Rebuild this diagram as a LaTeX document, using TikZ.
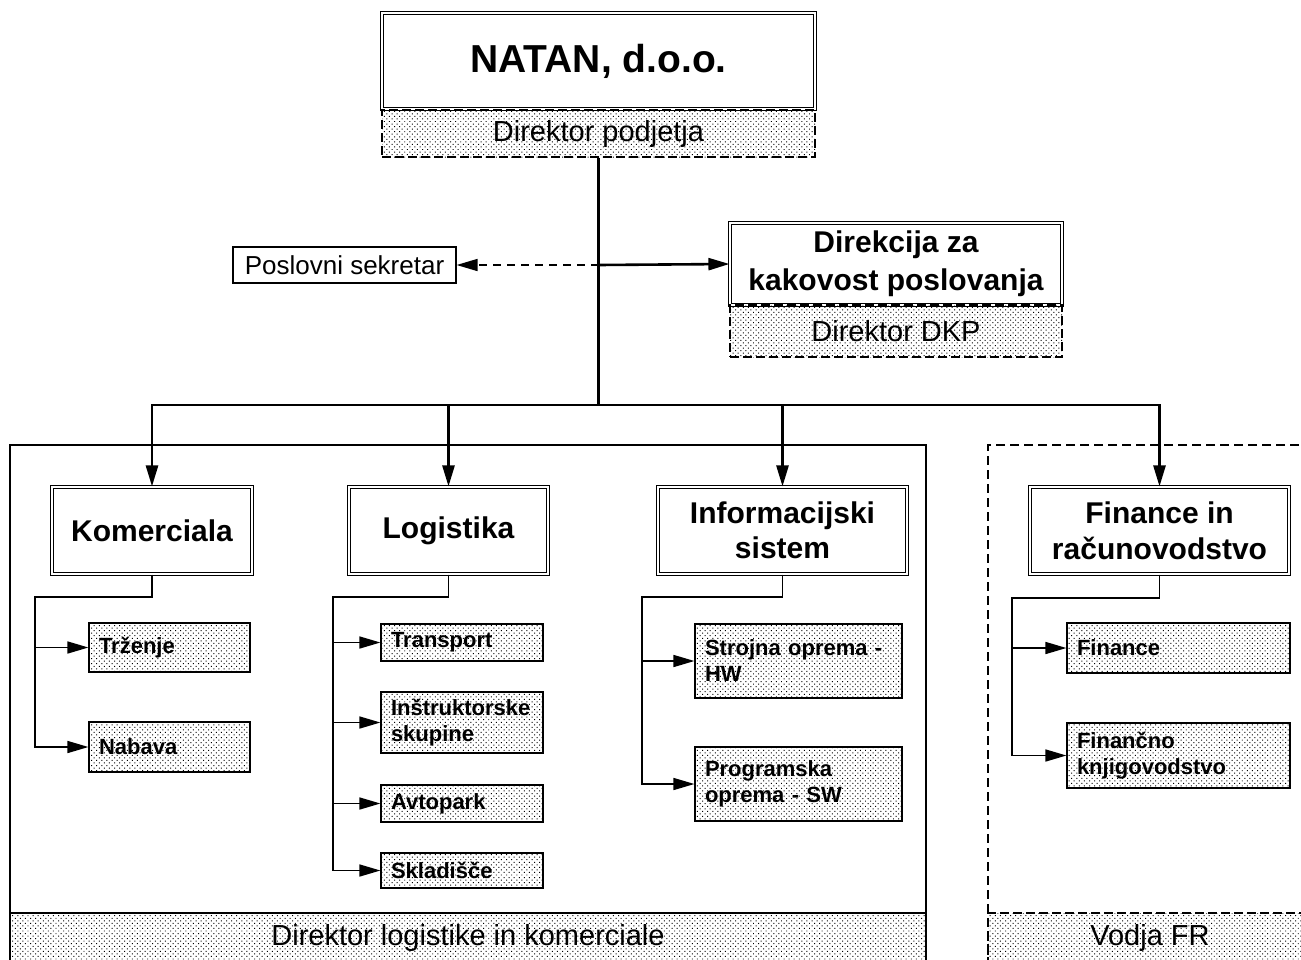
\documentclass[tikz,border=0pt]{standalone}
\usepackage{fontspec}
\setmainfont{Liberation Sans}
\usetikzlibrary{arrows.meta,patterns.meta}
\begin{document}
\begin{tikzpicture}[x=1pt,y=-1pt,
  Arr/.tip={Triangle[length=21pt,width=12pt]},
  mainline/.style={line width=2.6pt},
  subline/.style={line width=1.6pt},
  dotfill/.style={pattern={Dots[distance=3.6pt,radius=0.7pt,angle=45]}},
  dbl/.style={draw,double,double distance=2pt,line width=1.1pt,fill=white,align=center,
    font=\bfseries\fontsize{30}{35}\selectfont,inner sep=0pt},
  strip/.style={draw,dotfill,dash pattern=on 9pt off 4pt,line width=1.2pt,
    font=\fontsize{29}{34}\selectfont,inner sep=0pt},
  unitbox/.style={draw,dotfill,line width=1.2pt,align=left,
    font=\bfseries\fontsize{22}{26}\selectfont,inner xsep=10pt,inner ysep=0pt},
  group/.style={draw,line width=1.2pt,inner sep=0pt},
]
\useasboundingbox (0,0) rectangle (1301,959);
\clip (0,0) rectangle (1301,959);

% group containers
\node[group,minimum width=916pt,minimum height=517pt] (lgroup) at (468,703.5) {};
\node[strip,solid,minimum width=916pt,minimum height=49pt] (dlk) at (468,937.5) {Direktor logistike in komerciale};
\node[group,dash pattern=on 9pt off 5pt,minimum width=324pt,minimum height=517pt] (rgroup) at (1150,703.5) {};
\node[strip,minimum width=324pt,minimum height=49pt] (vfr) at (1150,937.5) {Vodja FR};

% top
\node[dbl,minimum width=433pt,minimum height=96pt,font=\bfseries\fontsize{39}{44}\selectfont] (natan) at (598.5,61) {NATAN, d.o.o.};
\node[strip,minimum width=433pt,minimum height=47pt] (dirpod) at (598.5,133.5) {Direktor podjetja};

\node[draw,line width=1.2pt,minimum width=223pt,minimum height=36pt,inner sep=0pt,
  font=\fontsize{26}{30}\selectfont] (sek) at (344.5,265) {Poslovni sekretar};

\node[dbl,minimum width=332pt,minimum height=82pt,font=\bfseries\fontsize{30}{38}\selectfont] (dkp) at (896,264) {Direkcija za\\kakovost poslovanja};
\node[strip,minimum width=332pt,minimum height=52pt] (dkpdir) at (896,331) {Direktor DKP};

% departments
\node[dbl,minimum width=200pt,minimum height=87pt] (komer) at (152,530.5) {Komerciala};
\node[dbl,minimum width=199pt,minimum height=87pt] (logi) at (448.5,530.5) {Logistika};
\node[dbl,minimum width=249pt,minimum height=87pt] (info) at (782.5,530.5) {Informacijski\\sistem};
\node[dbl,minimum width=259pt,minimum height=87pt,font=\bfseries\fontsize{30}{36}\selectfont] (fin) at (1159.5,530.5) {Finance in\\računovodstvo};

% units
\node[unitbox,minimum width=161pt,text width=141pt,minimum height=49pt] (trz) at (169.5,647.5) {Trženje};
\node[unitbox,minimum width=161pt,text width=141pt,minimum height=50pt] (nab) at (169.5,747) {Nabava};
\node[unitbox,minimum width=162pt,text width=142pt,minimum height=37pt] (trans) at (462,642.5) {Transport};
\node[unitbox,minimum width=162pt,text width=142pt,minimum height=61pt] (instr) at (462,722.5) {Inštruktorske\\skupine};
\node[unitbox,minimum width=162pt,text width=142pt,minimum height=37pt] (avto) at (462,803.5) {Avtopark};
\node[unitbox,minimum width=162pt,text width=142pt,minimum height=35pt] (sklad) at (462,870.5) {Skladišče};
\node[unitbox,minimum width=207pt,text width=187pt,minimum height=74pt] (hw) at (798.5,661) {Strojna oprema -\\HW};
\node[unitbox,minimum width=207pt,text width=187pt,minimum height=74pt] (sw) at (798.5,784) {Programska\\oprema - SW};
\node[unitbox,minimum width=223pt,text width=203pt,minimum height=50pt] (finn) at (1178.5,648) {Finance};
\node[unitbox,minimum width=223pt,text width=203pt,minimum height=65pt] (fk) at (1178.5,755.5) {Finančno\\knjigovodstvo};

% main connectors
\coordinate (mid) at (598.5,265);
\coordinate (busc) at (598.5,405);
\draw[mainline] (dirpod.south) -- (busc);
\draw[mainline,-Arr] (mid) -- (dkp.west);
\draw[subline,dash pattern=on 8pt off 6pt,-Arr] (mid) -- (sek.east);
\draw[mainline,-Arr] (busc) -| (komer.north);
\draw[mainline,-Arr] (busc) -| (logi.north);
\draw[mainline,-Arr] (busc) -| (info.north);
\draw[mainline,-Arr] (busc) -| (fin.north);

% sub connectors
\coordinate (kc) at (35,597);
\draw[subline,-Arr] (komer.south) |- (kc) |- (nab.west);
\draw[subline,-Arr] (kc |- trz.west) -- (trz.west);

\coordinate (lc) at (333,597);
\draw[subline,-Arr] (logi.south) |- (lc) |- (sklad.west);
\draw[subline,-Arr] (lc |- trans.west) -- (trans.west);
\draw[subline,-Arr] (lc |- instr.west) -- (instr.west);
\draw[subline,-Arr] (lc |- avto.west) -- (avto.west);

\coordinate (ic) at (642,597);
\draw[subline,-Arr] (info.south) |- (ic) |- (sw.west);
\draw[subline,-Arr] (ic |- hw.west) -- (hw.west);

\coordinate (fc) at (1012,598);
\draw[subline,-Arr] (fin.south) |- (fc) |- (fk.west);
\draw[subline,-Arr] (fc |- finn.west) -- (finn.west);
\end{tikzpicture}
\end{document}
